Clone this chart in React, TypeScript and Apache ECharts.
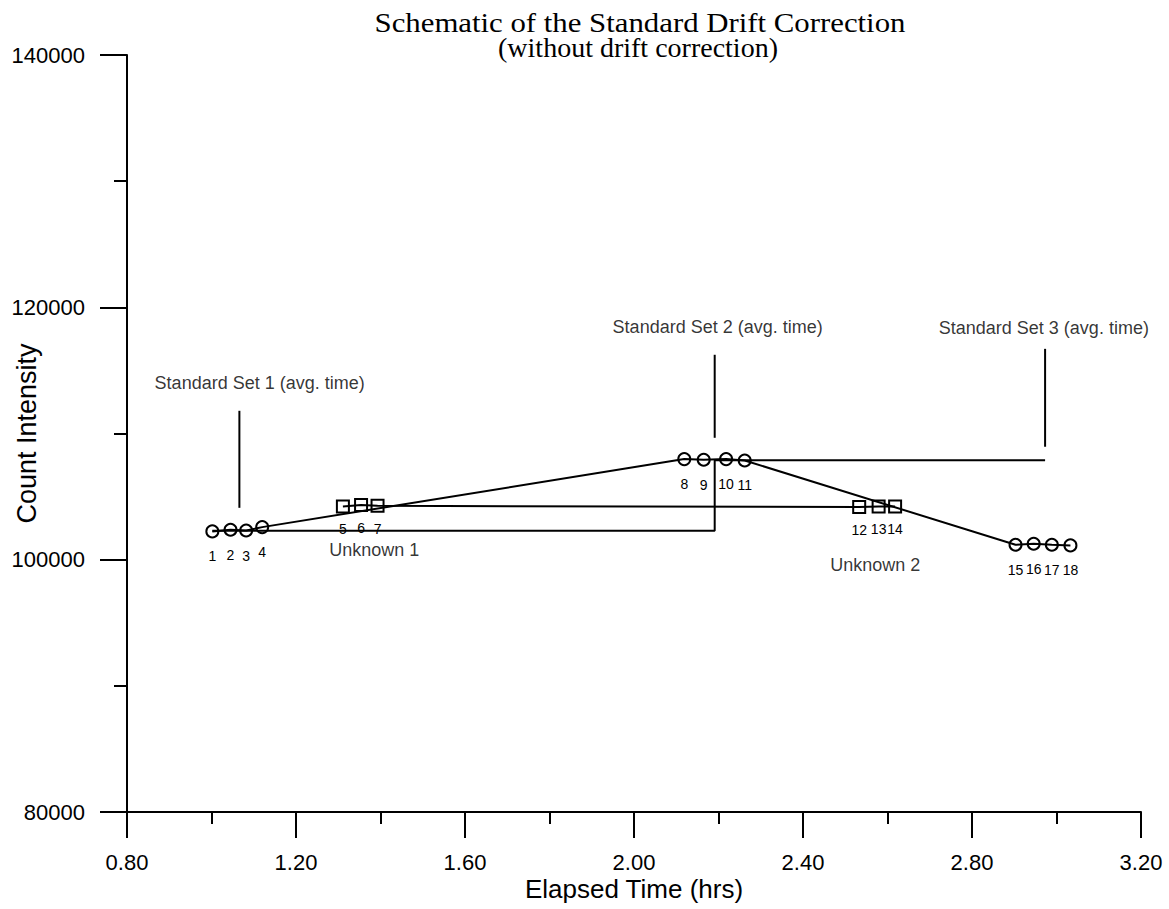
import React, { useEffect, useRef } from "react";
import * as echarts from "echarts";

// Standard measurements (circles)
const stdLabels = ["1", "2", "3", "4", "8", "9", "10", "11", "15", "16", "17", "18"];
const stdTimes = [1.002, 1.045, 1.082, 1.12, 2.119, 2.165, 2.218, 2.262, 2.903, 2.946, 2.989, 3.033];
const stdCounts = [102240, 102370, 102310, 102580, 107970, 107920, 107970, 107860, 101180, 101260, 101180, 101130];

// Unknown measurements (squares)
const unkLabels = ["5", "6", "7", "12", "13", "14"];
const unkTimes = [1.311, 1.354, 1.393, 2.533, 2.579, 2.618];
const unkCounts = [104220, 104330, 104270, 104170, 104220, 104220];

// Standard set average-time markers
const setNames = ["Standard Set 1 (avg. time)", "Standard Set 2 (avg. time)", "Standard Set 3 (avg. time)"];
const setAvgTimes = [1.066, 2.191, 2.973];
const markerTop = [111800, 116240, 116710];
const markerBottom = [104110, 109660, 108950];
const setLabelTimes = [1.114, 2.198, 2.97];
const setLabelCounts = [114020, 118450, 118380];

// Uncorrected level lines
const levelTimes = [1.002, 2.191, 2.191, 2.973];
const levelCounts = [102300, 102300, 107880, 107880];

// Unknown group labels
const unknownNames = ["Unknown 1", "Unknown 2"];
const unknownLabelTimes = [1.385, 2.571];
const unknownLabelCounts = [100800, 99600];

// Axes
const xMin = 0.8;
const xMax = 3.2;
const xStep = 0.4;
const yMin = 80000;
const yMax = 140000;
const yStep = 20000;

const titleLines = ["Schematic of the Standard Drift Correction", "(without drift correction)"];

const SANS = "'Liberation Sans', Arial, sans-serif";
const SERIF = "'Liberation Serif', 'Times New Roman', serif";

export default function App() {
  const ref = useRef<HTMLDivElement>(null);

  useEffect(() => {
    if (!ref.current) return;
    const chart = echarts.init(ref.current, null, { renderer: "svg" });

    const pointLabel = {
      show: true,
      position: "bottom",
      distance: 11,
      formatter: "{b}",
      color: "#000",
      fontSize: 14,
      fontFamily: SANS,
    };
    const hollow = { color: "rgba(0,0,0,0)", borderColor: "#000", borderWidth: 2 };
    const blackLine = { color: "#000", width: 2 };

    const markerSeries = setAvgTimes.map((t, i) => ({
      type: "line",
      silent: true,
      symbol: "none",
      lineStyle: blackLine,
      data: [
        [t, markerTop[i]],
        [t, markerBottom[i]],
      ],
      z: 2,
    }));

    const option: any = {
      animation: false,
      grid: { left: 127, right: 28, top: 55, bottom: 97, containLabel: false, outerBoundsMode: "none" },
      graphic: [
        {
          type: "text",
          x: 640,
          y: 22,
          scaleX: 1.1,
          style: {
            text: titleLines[0],
            font: `28px ${SERIF}`,
            fill: "#000",
            textAlign: "center",
            textVerticalAlign: "middle",
          },
        },
        {
          type: "text",
          x: 638,
          y: 47,
          style: {
            text: titleLines[1],
            font: `28px ${SERIF}`,
            fill: "#000",
            textAlign: "center",
            textVerticalAlign: "middle",
          },
        },
      ],
      xAxis: {
        type: "value",
        min: xMin,
        max: xMax,
        interval: xStep,
        axisLine: { show: true, onZero: false, lineStyle: blackLine },
        axisTick: { show: true, length: 26, lineStyle: blackLine },
        minorTick: { show: true, splitNumber: 2, length: 12, lineStyle: blackLine },
        splitLine: { show: false },
        minorSplitLine: { show: false },
        axisLabel: {
          formatter: (v: number) => v.toFixed(2),
          color: "#000",
          fontSize: 22,
          fontFamily: SANS,
          margin: 39,
        },
        name: "Elapsed Time (hrs)",
        nameLocation: "middle",
        nameGap: 64,
        nameMoveOverlap: false,
        nameTextStyle: { color: "#000", fontSize: 26, fontFamily: SANS },
      },
      yAxis: {
        type: "value",
        min: yMin,
        max: yMax,
        interval: yStep,
        axisLine: { show: true, onZero: false, lineStyle: blackLine },
        axisTick: { show: true, length: 27, lineStyle: blackLine },
        minorTick: { show: true, splitNumber: 2, length: 13, lineStyle: blackLine },
        splitLine: { show: false },
        minorSplitLine: { show: false },
        axisLabel: {
          formatter: (v: number) => String(v),
          color: "#000",
          fontSize: 22,
          fontFamily: SANS,
          margin: 42,
        },
        name: "Count Intensity",
        nameLocation: "middle",
        nameGap: 87,
        nameMoveOverlap: false,
        nameTextStyle: { color: "#000", fontSize: 27, fontFamily: SANS },
      },
      series: [
        {
          type: "line",
          silent: true,
          symbol: "none",
          lineStyle: blackLine,
          data: levelTimes.map((t, i) => [t, levelCounts[i]]),
          z: 2,
        },
        ...markerSeries,
        {
          type: "line",
          silent: true,
          symbol: "rect",
          symbolSize: 12,
          itemStyle: hollow,
          lineStyle: blackLine,
          label: { ...pointLabel, distance: 9 },
          data: unkTimes.map((t, i) => ({ name: unkLabels[i], value: [t, unkCounts[i]] })),
          z: 3,
        },
        {
          type: "line",
          silent: true,
          symbol: "circle",
          symbolSize: 12,
          itemStyle: hollow,
          lineStyle: blackLine,
          label: pointLabel,
          data: stdTimes.map((t, i) => ({ name: stdLabels[i], value: [t, stdCounts[i]] })),
          z: 3,
        },
        {
          type: "scatter",
          silent: true,
          symbolSize: 1,
          itemStyle: { color: "rgba(0,0,0,0)" },
          label: {
            show: true,
            position: "inside",
            formatter: "{b}",
            color: "#000",
            fontSize: 18,
            fontFamily: SANS,
          },
          data: [
            ...setNames.map((n, i) => ({ name: n, value: [setLabelTimes[i], setLabelCounts[i]] })),
            ...unknownNames.map((n, i) => ({ name: n, value: [unknownLabelTimes[i], unknownLabelCounts[i]] })),
          ],
          z: 4,
        },
      ],
    };

    chart.setOption(option);
    return () => chart.dispose();
  }, []);

  return (
    <div
      ref={ref}
      style={{ position: "absolute", left: 0, top: 0, width: 1169, height: 909, background: "#fff" }}
    />
  );
}
